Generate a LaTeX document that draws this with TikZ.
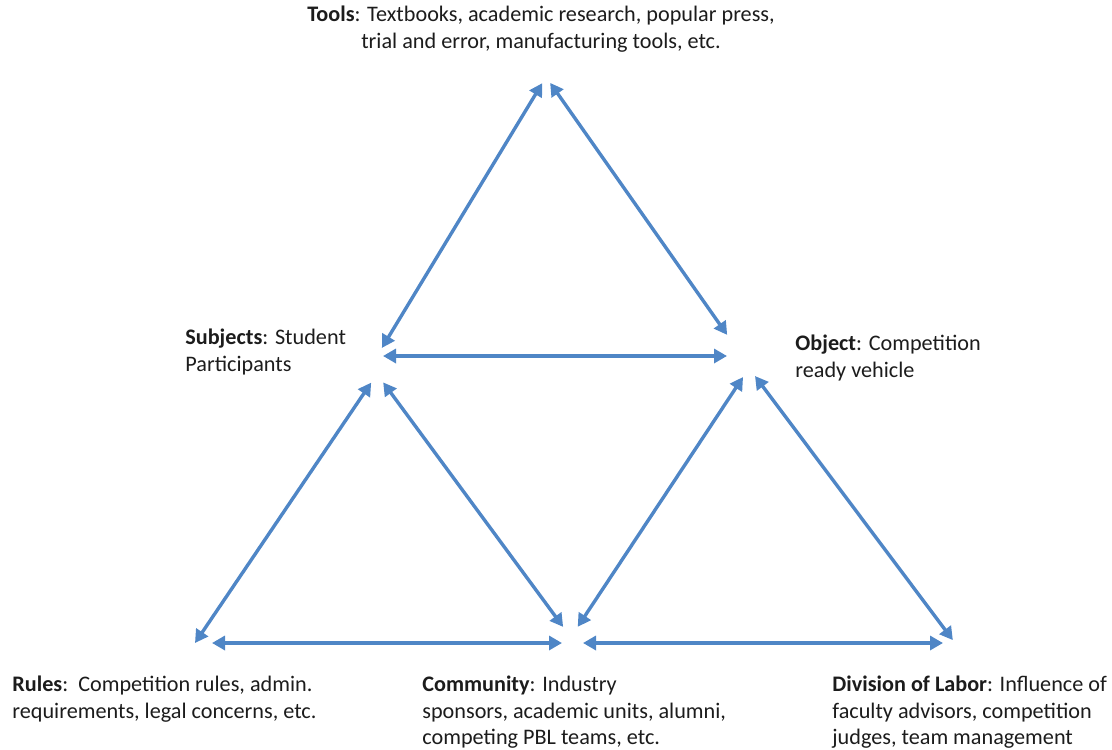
\documentclass[tikz,border=0pt]{standalone}
\usepackage{fontspec}
\setmainfont{Carlito}
\usetikzlibrary{arrows.meta}
\definecolor{linkblue}{RGB}{79,134,198}
\definecolor{labeltext}{RGB}{28,28,28}

\begin{document}
\begin{tikzpicture}[x=0.5pt, y=-0.5pt,
		link/.style={color=linkblue, line width=1.7pt, >={Triangle[length=6.5pt,width=7pt]}, <->},
		lbl/.style={inner sep=0pt, text=labeltext, font=\fontsize{11.1}{13.2}\selectfont, align=left, anchor=north west}]
	\useasboundingbox (0,0) rectangle (1112,749);
	% corners of the three triangles
	\coordinate (tools) at (546,77);
	\coordinate (subjT) at (377,356);
	\coordinate (objT)  at (742,356);
	\coordinate (subjL) at (377,374);
	\coordinate (rules) at (195,643);
	\coordinate (commL) at (575,643);
	\coordinate (objR)  at (749,368);
	\coordinate (commR) at (567,643);
	\coordinate (div)   at (955,643);

	\node[lbl, anchor=north, align=center] (lTools) at (541,6)
		{\textbf{Tools}: Textbooks, academic research, popular press,\\ trial and error, manufacturing tools, etc.};
	\node[lbl] (lSubj) at (185,329) {\textbf{Subjects}: Student\\Participants};
	\node[lbl] (lObj) at (795,335) {\textbf{Object}: Competition\\ready vehicle};
	\node[lbl] (lRules) at (12,676) {\textbf{Rules}:\ \ Competition rules, admin.\\requirements, legal concerns, etc.};
	\node[lbl] (lComm) at (422,676) {\textbf{Community}: Industry\\sponsors, academic units, alumni,\\competing PBL teams, etc.};
	\node[lbl] (lDiv) at (832,676) {\textbf{Division of Labor}: Influence of\\faculty advisors, competition\\judges, team management};

	\path[link]
	(subjT) edge[shorten <=4.7pt, shorten >=3.6pt] (tools)
	(tools) edge[shorten <=3.6pt, shorten >=12.9pt] (objT)
	(subjT) edge[shorten <=3pt, shorten >=7.5pt] (objT)
	(subjL) edge[shorten <=5.2pt] (rules)
			edge[shorten <=5.2pt, shorten >=10pt] (commL)
	(rules) edge[shorten <=8.5pt, shorten >=6.5pt] (commL)
	(objR)  edge[shorten <=5.4pt, shorten >=9.7pt] (commR)
			edge[shorten <=5pt, shorten >=1.8pt] (div)
	(commR) edge[shorten <=8pt, shorten >=6pt] (div);
\end{tikzpicture}
\end{document}
